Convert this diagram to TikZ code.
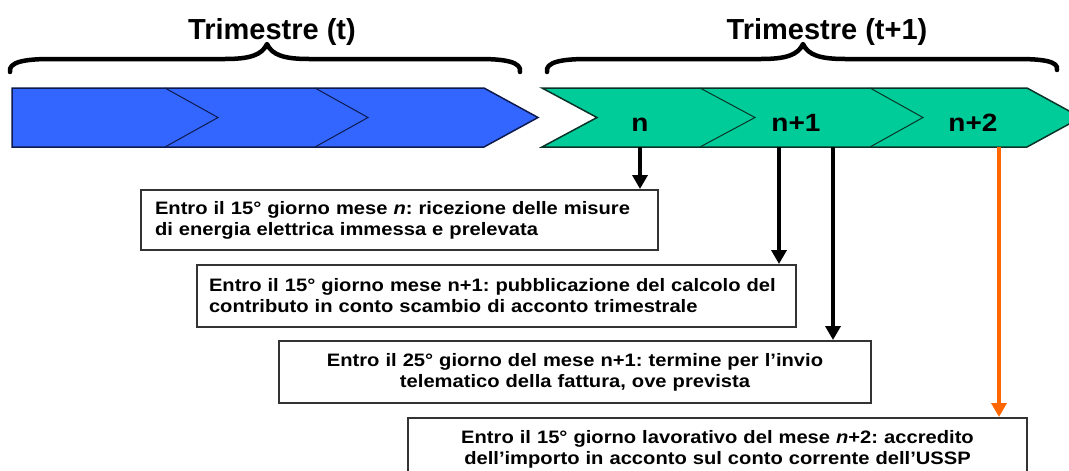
\documentclass[tikz,border=0pt]{standalone}
\usepackage{fontspec}
\setmainfont{Liberation Sans}
\newfontfamily\boxfont[FakeStretch=1.12]{Liberation Sans}
\usetikzlibrary{arrows.meta}
\definecolor{barblue}{HTML}{3366FF}
\definecolor{bargreen}{HTML}{00CC99}
\definecolor{navy}{HTML}{0D1A4D}
\definecolor{dkgreen}{HTML}{0A3328}
\definecolor{orng}{HTML}{FF6600}
\definecolor{boxedge}{HTML}{333333}
\frenchspacing
\begin{document}
\begin{tikzpicture}[x=1pt,y=-1pt,
  title/.style={font=\fontsize{29}{34}\selectfont\bfseries, inner sep=0pt, anchor=base},
  brace/.style={line width=4.5pt, line cap=round, line join=round},
  lbl/.style={font=\boxfont\fontsize{25}{30}\selectfont\bfseries, inner sep=0pt, anchor=base},
  evt/.style={draw=boxedge, line width=2pt, fill=white, inner ysep=0pt,
    font=\boxfont\fontsize{18}{21}\selectfont\bfseries},
  conn/.style={line width=4pt, -{Triangle[length=14pt,width=15pt]}},
  chev/.style={line width=1pt},
]
\useasboundingbox (0,0) rectangle (1069,471);

% titles
\node[title] (t1) at (272,39) {Trimestre (t)};
\node[title] (t2) at (827,39) {Trimestre (t+1)};

% braces
\draw[brace] (10,72) .. controls (8,62) and (25,59) .. (50,59) -- (225,59)
  .. controls (250,59) and (262,55) .. (267,44)
  .. controls (272,55) and (284,59) .. (309,59) -- (480,59)
  .. controls (505,59) and (522,62) .. (520,72);
\draw[brace] (547,72) .. controls (545,62) and (562,59) .. (587,59) -- (761,59)
  .. controls (786,59) and (798,55) .. (803,44)
  .. controls (808,55) and (820,59) .. (845,59) -- (1017,59)
  .. controls (1042,59) and (1059,61) .. (1057,70);

% blue bar
\draw[fill=barblue, draw=navy, line width=1.5pt]
  (12,88) -- (484,88) -- (538,117.5) -- (484,147) -- (12,147) -- cycle;
\draw[chev, draw=navy] (165,88) -- (218,117.5) -- (165,147);
\draw[chev, draw=navy] (315,88) -- (368,117.5) -- (315,147);

% green bar
\draw[fill=bargreen, draw=dkgreen, line width=1.5pt]
  (542,88) -- (1027,88) -- (1081,117.5) -- (1027,147) -- (542,147) -- (597,117.5) -- cycle;
\draw[chev, draw=dkgreen] (700,88) -- (755,117.5) -- (700,147);
\draw[chev, draw=dkgreen] (870,88) -- (923,117.5) -- (870,147);

\node[lbl] (m0) at (640,131) {n};
\node[lbl] (m1) at (796,131) {n+1};
\node[lbl] (m2) at (973,131) {n+2};

% event boxes
\node[evt, minimum width=517pt, minimum height=60pt, text width=489pt, inner xsep=14pt, align=left]
  (b1) at (399.5,220) {Entro il 15° giorno mese \textit{n}: ricezione delle misure\\di energia elettrica immessa e prelevata};
\node[evt, minimum width=599pt, minimum height=62pt, text width=575pt, inner xsep=12pt, align=left]
  (b2) at (496.5,296) {Entro il 15° giorno mese n+1: pubblicazione del calcolo del\\contributo in conto scambio di acconto trimestrale};
\node[evt, minimum width=592pt, minimum height=62pt, text width=570pt, inner xsep=11pt, align=center]
  (b3) at (575,372) {Entro il 25° giorno del mese n+1: termine per l’invio\\telematico della fattura, ove prevista};
\node[evt, minimum width=619pt, minimum height=62pt, text width=597pt, inner xsep=11pt, align=center]
  (b4) at (717.5,449) {Entro il 15° giorno lavorativo del mese \textit{n}+2: accredito\\dell’importo in acconto sul conto corrente dell’USSP};

% connectors
\coordinate (s1) at (640,147);
\coordinate (s2) at (779,147);
\coordinate (s3) at (833,147);
\coordinate (s4) at (999,147);
\draw[conn] (s1) -- (s1 |- b1.north);
\draw[conn] (s2) -- (s2 |- b2.north);
\draw[conn] (s3) -- (s3 |- b3.north);
\draw[conn, draw=orng, fill=orng, line width=3.5pt] (s4) -- (s4 |- b4.north);
\end{tikzpicture}
\end{document}
